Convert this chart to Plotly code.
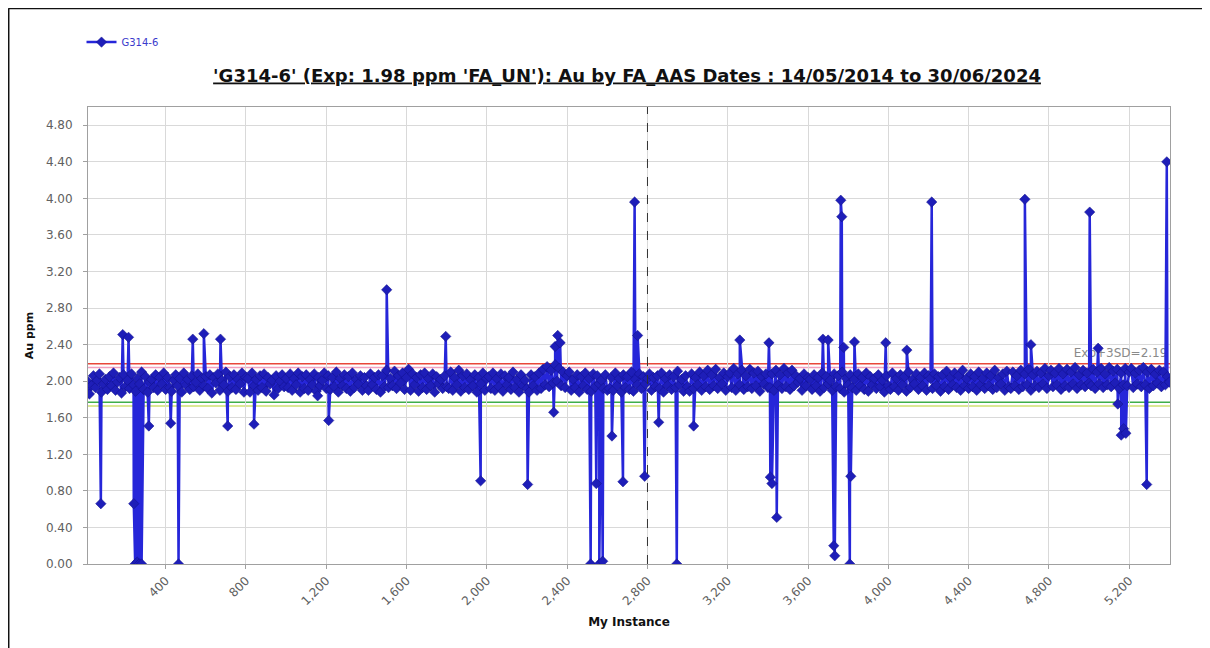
import plotly.graph_objects as go

# ---------------- data ----------------
series_name = "G314-6"
title_text = "'G314-6' (Exp: 1.98 ppm 'FA_UN'): Au by FA_AAS Dates : 14/05/2014 to 30/06/2024"

# routine results, one every 10 instances (instances 10 .. 5400)
baseline_values = [
    2.00, 1.86, 1.95, 2.06, 1.93, 2.01, 2.08, 1.88, 1.97, 2.02, 1.91, 2.05, 1.95, 2.09, 1.90, 1.99, 2.04, 1.87, 2.07, 1.94,
    2.01, 1.92, 2.08, 1.96, 1.89, 2.03, 1.97, 2.10, 1.91, 2.05, 1.88, 1.99, 2.02, 1.93, 2.07, 1.90, 2.04, 1.97, 2.09, 1.91,
    2.04, 1.93, 1.89, 2.01, 2.07, 1.95, 2.03, 1.88, 2.09, 1.96, 2.02, 1.91, 2.06, 1.94, 1.99, 2.08, 1.90, 2.03, 1.95, 2.05,
    1.92, 2.07, 1.87, 2.04, 1.98, 2.08, 1.90, 2.01, 1.96, 2.10, 1.89, 2.05, 1.93, 2.07, 1.91, 2.02, 1.97, 2.09, 1.88, 2.04,
    2.03, 1.88, 2.09, 1.95, 2.02, 1.90, 2.06, 1.93, 2.08, 1.89, 2.04, 1.97, 2.01, 1.85, 2.06, 1.92, 2.00, 2.07, 1.94, 2.03,
    1.93, 2.08, 1.90, 2.03, 1.96, 2.09, 1.88, 2.05, 1.92, 2.07, 1.90, 2.02, 1.96, 2.08, 1.89, 2.04, 1.95, 2.01, 2.09, 1.92,
    2.06, 1.91, 2.04, 1.94, 2.10, 1.88, 2.03, 1.95, 2.07, 1.92, 2.05, 1.89, 2.09, 1.93, 2.02, 1.97, 2.06, 1.90, 2.04, 1.95,
    1.90, 2.08, 1.96, 2.04, 1.91, 2.07, 1.88, 2.06, 1.94, 2.12, 1.93, 2.03, 1.95, 2.11, 1.92, 2.06, 1.98, 2.09, 1.91, 2.04,
    2.13, 1.90, 2.08, 1.96, 2.04, 1.89, 2.07, 1.93, 2.09, 1.91, 2.03, 1.95, 2.08, 1.88, 2.05, 1.97, 2.02, 1.92, 2.06, 1.94,
    1.92, 2.10, 1.90, 2.04, 1.96, 2.12, 1.89, 2.06, 1.93, 2.08, 1.91, 2.02, 1.95, 2.07, 1.88, 2.04, 1.97, 2.09, 1.90, 2.03,
    2.05, 1.92, 2.09, 1.90, 2.03, 1.94, 2.08, 1.89, 2.06, 1.96, 2.04, 1.91, 2.10, 1.93, 2.02, 1.88, 2.07, 1.95, 2.01, 1.92,
    1.88, 2.07, 1.95, 2.05, 1.90, 2.09, 1.92, 2.13, 1.96, 2.16, 1.94, 2.12, 1.98, 2.18, 2.00, 2.14, 1.95, 2.10, 1.93, 2.06,
    2.10, 1.90, 2.02, 1.93, 2.07, 1.88, 2.05, 1.95, 2.09, 1.91, 2.03, 1.89, 2.08, 1.94, 2.06, 1.97, 2.01, 1.92, 2.07, 1.90,
    1.92, 2.04, 1.90, 2.09, 1.95, 2.03, 1.88, 2.07, 1.93, 2.05, 1.91, 2.10, 1.89, 2.02, 1.96, 2.08, 1.92, 2.05, 1.97, 2.03,
    2.08, 1.90, 2.04, 1.94, 2.06, 1.92, 2.09, 1.88, 2.03, 1.95, 2.07, 1.91, 2.05, 1.93, 2.11, 1.96, 2.02, 1.89, 2.06, 1.94,
    1.89, 2.08, 1.92, 2.04, 1.96, 2.10, 1.90, 2.06, 1.94, 2.12, 1.91, 2.07, 1.95, 2.13, 1.92, 2.04, 1.97, 2.09, 1.90, 2.05,
    2.09, 1.93, 2.14, 1.90, 2.08, 1.96, 2.12, 1.91, 2.06, 1.94, 2.13, 1.92, 2.09, 1.95, 2.11, 1.89, 2.05, 1.97, 2.08, 1.93,
    1.93, 2.08, 1.90, 2.12, 1.96, 2.07, 1.92, 2.14, 1.94, 2.09, 1.91, 2.12, 1.95, 2.06, 1.99, 2.03, 1.90, 2.08, 1.95, 2.04,
    2.02, 1.91, 2.07, 1.95, 2.04, 1.89, 2.09, 1.93, 2.05, 1.97, 2.01, 1.90, 2.08, 1.94, 2.06, 1.92, 2.10, 1.88, 2.03, 1.96,
    2.07, 1.93, 2.02, 1.90, 2.08, 1.95, 2.04, 1.91, 2.09, 1.89, 2.05, 1.96, 2.03, 1.92, 2.07, 1.94, 2.01, 1.88, 2.06, 1.95,
    1.91, 2.09, 1.94, 2.03, 1.90, 2.07, 1.96, 2.05, 1.89, 2.10, 1.93, 2.02, 1.97, 2.08, 1.91, 2.04, 1.95, 2.09, 1.90, 2.06,
    2.03, 1.92, 2.08, 1.95, 2.05, 1.89, 2.07, 1.94, 2.11, 1.91, 2.04, 1.96, 2.09, 1.93, 2.06, 1.90, 2.12, 1.95, 2.03, 1.92,
    2.08, 1.94, 2.05, 1.90, 2.10, 1.96, 2.03, 1.92, 2.09, 1.95, 2.06, 1.91, 2.12, 1.93, 2.04, 1.97, 2.08, 1.90, 2.11, 1.94,
    1.92, 2.10, 1.95, 2.06, 1.91, 2.12, 1.94, 2.08, 1.96, 2.13, 1.90, 2.07, 1.95, 2.11, 1.93, 2.09, 1.97, 2.14, 1.92, 2.06,
    2.12, 1.94, 2.09, 1.96, 2.14, 1.91, 2.08, 1.95, 2.13, 1.93, 2.10, 1.97, 2.15, 1.92, 2.07, 1.96, 2.12, 1.94, 2.09, 1.98,
    1.95, 2.13, 1.92, 2.10, 1.97, 2.14, 1.93, 2.08, 1.96, 2.15, 1.94, 2.11, 1.98, 2.13, 1.92, 2.09, 1.96, 2.14, 1.95, 2.10,
    2.14, 1.93, 2.09, 1.97, 2.12, 1.94, 2.15, 1.96, 2.10, 1.92, 2.13, 1.95, 2.08, 1.98, 2.12, 1.94, 2.10, 1.96, 2.05, 1.99,
]
baseline_step = 10

# outlying results: instance number and Au ppm
spike_instances = [
    77, 186, 215, 241, 248, 258, 268, 280, 316, 425, 464, 535, 590, 673, 709, 840,
    1157, 1212, 1501, 1795, 1969, 2203, 2333, 2340, 2353, 2365, 2517, 2545, 2560, 2577,
    2623, 2678, 2736, 2751, 2786, 2856, 2946, 3030, 3260, 3405, 3412, 3420, 3444,
    3674, 3700, 3728, 3733, 3763, 3768, 3778, 3808, 3813, 3831, 3987, 4092, 4216,
    4680, 4710, 5003, 5045, 5143, 5160, 5172, 5183, 5287, 5387,
]
spike_values = [
    0.66, 2.51, 2.48, 0.66, 0.00, 0.02, 0.00, 0.00, 1.51, 1.54, 0.00, 2.46, 2.52, 2.46, 1.51, 1.53,
    1.84, 1.57, 3.00, 2.49, 0.91, 0.87, 1.66, 2.38, 2.50, 2.42, 0.00, 0.88, 0.00, 0.03,
    1.40, 0.90, 3.96, 2.50, 0.96, 1.55, 0.00, 1.51, 2.45, 2.42, 0.95, 0.88, 0.51,
    2.46, 2.45, 0.20, 0.09, 3.98, 3.80, 2.37, 0.00, 0.96, 2.43, 2.42, 2.34, 3.96,
    3.99, 2.40, 3.85, 2.36, 1.75, 1.41, 1.48, 1.43, 0.87, 4.40,
]

# control limits
limit_values = [2.19, 2.15, 1.77, 1.73]
limit_colors = ["#e8473a", "#f2a0c0", "#3fae49", "#cfe070"]
limit_labels = ["Exp+3SD=2.19", "Exp-3SD=1.77"]
limit_label_values = [2.30, 1.95]

x_ticks = [400, 800, 1200, 1600, 2000, 2400, 2800, 3200, 3600, 4000, 4400, 4800, 5200]
y_ticks = [0.0, 0.4, 0.8, 1.2, 1.6, 2.0, 2.4, 2.8, 3.2, 3.6, 4.0, 4.4, 4.8]

# ---------------- build series ----------------
baseline_instances = [baseline_step * (i + 1) for i in range(len(baseline_values))]
pairs = list(zip(baseline_instances, baseline_values)) + list(zip(spike_instances, spike_values))
pairs.sort(key=lambda p: p[0])
xs = [p[0] for p in pairs]
ys = [p[1] for p in pairs]

fig = go.Figure()

# limit labels (drawn beneath the series)
fig.add_trace(go.Scatter(
    x=[5390, 5390], y=limit_label_values, text=limit_labels, mode="text",
    textposition="middle left", textfont=dict(size=12, color="#8a8a8a", family="DejaVu Sans"),
    showlegend=False, hoverinfo="skip",
))

fig.add_trace(go.Scatter(
    x=xs, y=ys, mode="lines+markers", name=series_name,
    line=dict(color="#2626d9", width=2.5),
    marker=dict(symbol="diamond", size=8, color="#1e1eb8", line=dict(color="#10108a", width=0.5)),
))

shapes = []
for v, c in zip(limit_values, limit_colors):
    shapes.append(dict(type="line", xref="paper", x0=0, x1=1, yref="y", y0=v, y1=v,
                       line=dict(color=c, width=1.5), layer="between"))
# crosshair
shapes.append(dict(type="line", xref="x", x0=2800, x1=2800, yref="paper", y0=0, y1=1,
                   line=dict(color="#333333", width=1, dash="dash"), layer="above"))
# outer frame (left and top)
shapes.append(dict(type="line", xref="paper", yref="paper", x0=-0.0735, x1=-0.0735, y0=-0.2, y1=1.216,
                   line=dict(color="#111111", width=2)))
shapes.append(dict(type="line", xref="paper", yref="paper", x0=-0.0735, x1=1.05, y0=1.216, y1=1.216,
                   line=dict(color="#111111", width=2)))

fig.update_layout(
    width=1202, height=640,
    margin=dict(l=80, r=40, t=99, b=84),
    paper_bgcolor="white", plot_bgcolor="white",
    font=dict(family="DejaVu Sans", color="#555555"),
    title=dict(text="<u>" + title_text + "</u>", x=0.515, xanchor="center", y=0.895, yanchor="middle",
               font=dict(size=18, color="#111111", family="DejaVu Sans", weight="bold")),
    showlegend=True,
    legend=dict(x=-0.006, xanchor="left", y=1.142, yanchor="middle", bgcolor="rgba(0,0,0,0)",
                font=dict(size=10, color="#3a3acc"), itemwidth=30),
    shapes=shapes,
)

fig.update_xaxes(
    range=[13, 5403], tickvals=x_ticks, tickformat=",d", tickangle=-45,
    showgrid=True, gridcolor="#d9d9d9", gridwidth=1, zeroline=False,
    showline=True, mirror=True, linecolor="#a0a0a0", linewidth=1,
    ticks="outside", ticklen=4, tickcolor="#a0a0a0",
    tickfont=dict(size=12, color="#606060"),
    title=dict(text="<b>My Instance</b>", font=dict(size=12, color="#111111"), standoff=10),
)
fig.update_yaxes(
    range=[0, 5.0], tickvals=y_ticks, tickformat=".2f",
    showgrid=True, gridcolor="#d9d9d9", gridwidth=1, zeroline=False,
    showline=True, mirror=True, linecolor="#a0a0a0", linewidth=1,
    ticks="outside", ticklen=4, tickcolor="#a0a0a0", ticklabelstandoff=8,
    tickfont=dict(size=12, color="#606060"),
    title=dict(text="<b>Au ppm</b>", font=dict(size=11, color="#111111"), standoff=10),
)

fig.write_html("out.html")
